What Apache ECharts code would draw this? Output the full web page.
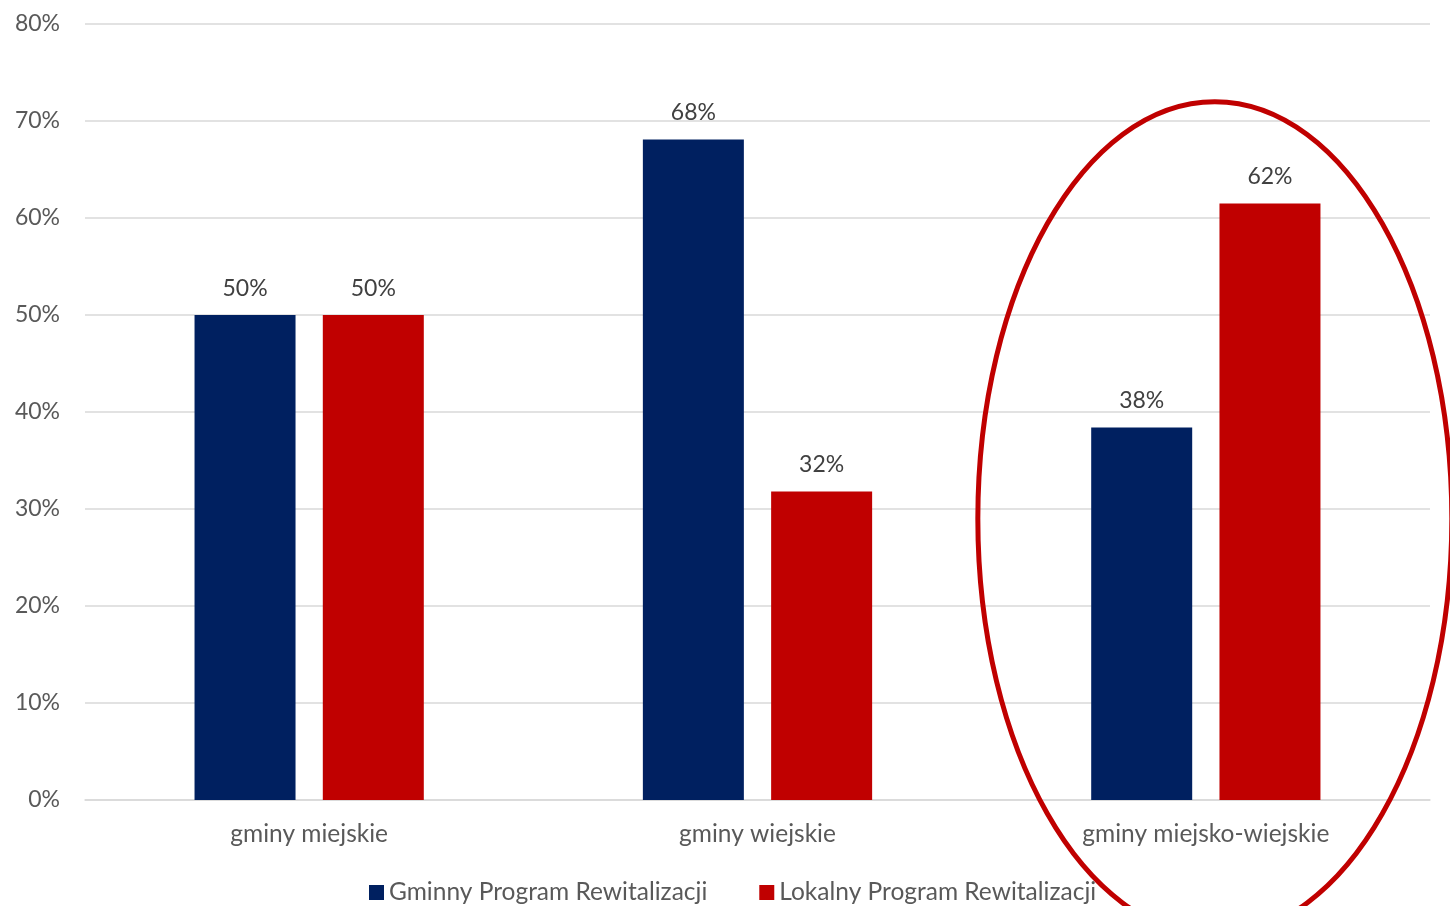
<!DOCTYPE html>
<html>
<head>
<meta charset="utf-8">
<script src="https://cdn.jsdelivr.net/npm/echarts@6/dist/echarts.min.js"></script>
<style>
html,body{margin:0;padding:0;background:#fff;}
#c{width:1450px;height:906px;}
</style>
</head>
<body>
<div id="c"></div>
<script>
var categories = ['gminy miejskie', 'gminy wiejskie', 'gminy miejsko-wiejskie'];
var seriesNames = ['Gminny Program Rewitalizacji', 'Lokalny Program Rewitalizacji'];
var gprValues = [50, 68.1, 38.4];
var lprValues = [50, 31.8, 61.5];
var yTicks = [0, 10, 20, 30, 40, 50, 60, 70, 80];

var FONT = 'Lato, "Open Sans", sans-serif';
var chart = echarts.init(document.getElementById('c'));
var labelCfg = {
  show: true, position: 'top', distance: 15,
  color: '#404040', fontSize: 23, fontFamily: FONT,
  formatter: function (p) { return Math.round(p.value) + '%'; }
};
chart.setOption({
  animation: false,
  backgroundColor: '#ffffff',
  grid: { left: 85, right: 20, top: 24, bottom: 106, containLabel: false },
  legend: {
    top: 875, left: 364, itemWidth: 15, itemHeight: 15, itemGap: 52,
    icon: 'rect',
    textStyle: { color: '#595959', fontSize: 24.5, fontFamily: FONT },
    data: seriesNames
  },
  xAxis: {
    type: 'category', data: categories,
    axisLine: { show: true, lineStyle: { color: '#d9d9d9', width: 1.5 } },
    axisTick: { show: false },
    axisLabel: { color: '#595959', fontSize: 24.5, fontFamily: FONT, margin: 22 }
  },
  yAxis: {
    type: 'value', min: yTicks[0], max: yTicks[yTicks.length - 1], interval: 10,
    axisLine: { show: false }, axisTick: { show: false },
    splitLine: { lineStyle: { color: '#d9d9d9', width: 1.5 } },
    axisLabel: { color: '#595959', fontSize: 23, fontFamily: FONT, margin: 25,
      formatter: function (v) { return v + '%'; } }
  },
  series: [
    { name: seriesNames[0], type: 'bar', data: gprValues, barWidth: 101, barGap: '27%',
      itemStyle: { color: '#002060' }, label: labelCfg },
    { name: seriesNames[1], type: 'bar', data: lprValues, barWidth: 101,
      itemStyle: { color: '#C00000' }, label: labelCfg }
  ]
});

// Annotation ellipse around the third category
var cx = chart.convertToPixel({ xAxisIndex: 0 }, categories[2]) + 9;
var cy = chart.convertToPixel({ yAxisIndex: 0 }, 29);
chart.setOption({
  graphic: [{
    type: 'ellipse', z: 100,
    shape: { cx: cx, cy: cy, rx: 237, ry: 417 },
    style: { fill: 'none', stroke: '#C00000', lineWidth: 5 }
  }]
});
</script>
</body>
</html>
